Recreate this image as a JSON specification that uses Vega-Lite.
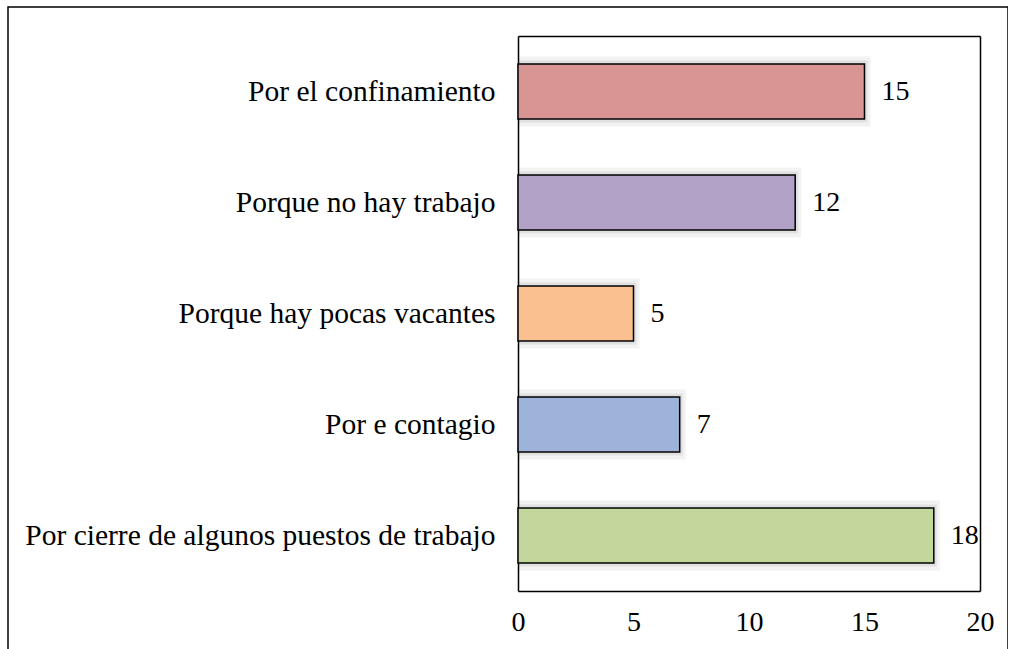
{
  "$schema": "https://vega.github.io/schema/vega-lite/v6.json",
  "width": 1000,
  "height": 665,
  "autosize": {"type": "none"},
  "padding": {"left": 8, "top": 7, "right": 0, "bottom": 0},
  "background": "white",
  "config": {
    "view": {"stroke": "black", "strokeWidth": 1.5},
    "font": "Liberation Serif",
    "axis": {"labelFont": "Liberation Serif", "labelFontSize": 28, "labelColor": "black", "domainColor": "black", "domainWidth": 1.5, "grid": false, "ticks": false, "title": null}
  },
  "data": {
    "values": [
      {"reason": "Por el confinamiento", "count": 15},
      {"reason": "Porque no hay trabajo", "count": 12},
      {"reason": "Porque hay pocas vacantes", "count": 5},
      {"reason": "Por e contagio", "count": 7},
      {"reason": "Por cierre de algunos puestos de trabajo", "count": 18}
    ]
  },
  "layer": [
    {
      "mark": {"type": "bar", "color": "black", "opacity": 0.05, "height": 70, "xOffset": 6},
      "encoding": {
        "x": {"field": "count", "type": "quantitative", "scale": {"domain": [0, 20], "range": [510, 972]}, "axis": {"orient": "bottom", "offset": -81, "values": [0, 5, 10, 15, 20], "labelPadding": 17, "labelFlush": false, "domain": true, "labelOverlap": false}},
        "x2": {"datum": 0},
        "y": {"field": "reason", "type": "nominal", "sort": null, "scale": {"range": [29, 584], "paddingInner": 0.5, "paddingOuter": 0.25}, "axis": {"orient": "left", "offset": -510, "labelPadding": 23, "labelFontSize": 29.5, "domain": true, "labelLimit": 700}}
      }
    },
    {
      "mark": {"type": "bar", "color": "black", "opacity": 0.07, "height": 62, "xOffset": 3},
      "encoding": {
        "x": {"field": "count", "type": "quantitative", "axis": null},
        "x2": {"datum": 0},
        "y": {"field": "reason", "type": "nominal", "sort": null, "axis": null}
      }
    },
    {
      "mark": {"type": "bar", "stroke": "black", "strokeWidth": 1.5, "height": 55},
      "encoding": {
        "x": {"field": "count", "type": "quantitative", "axis": null},
        "x2": {"datum": 0},
        "y": {"field": "reason", "type": "nominal", "sort": null, "axis": null},
        "color": {
          "field": "reason",
          "type": "nominal",
          "sort": null,
          "scale": {"range": ["#D99594", "#B2A2C7", "#FAC090", "#9DB3DA", "#C3D69B"]},
          "legend": null
        }
      }
    },
    {
      "mark": {"type": "text", "align": "left", "baseline": "middle", "dx": 17, "fontSize": 28, "font": "Liberation Serif", "color": "black"},
      "encoding": {
        "x": {"field": "count", "type": "quantitative", "axis": {"orient": "top", "offset": -29, "labels": false, "domain": true}},
        "y": {"field": "reason", "type": "nominal", "sort": null, "axis": {"orient": "right", "offset": -28, "labels": false, "domain": true}},
        "text": {"field": "count"}
      }
    }
  ],
  "resolve": {"axis": {"x": "independent", "y": "independent"}}
}
